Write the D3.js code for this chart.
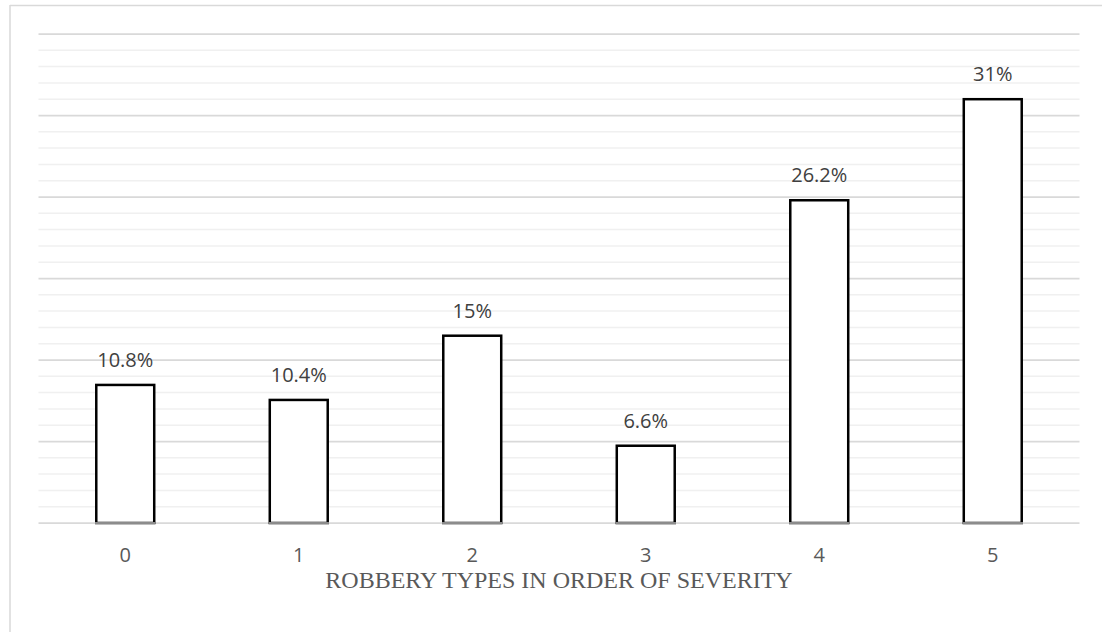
<!DOCTYPE html>
<html>
<head>
<meta charset="utf-8">
<script src="https://cdn.jsdelivr.net/npm/d3@7"></script>
<style>
  html, body { margin: 0; padding: 0; background: #fff; }
  svg { display: block; }
</style>
</head>
<body>
<svg id="chart" width="1102" height="632"></svg>
<script>
// ---- data ----
const categories = ["0", "1", "2", "3", "4", "5"];
// bar heights as drawn, in axis units (gridlines every 1, major every 5)
const barValues = [8.47, 7.55, 11.49, 4.74, 19.8, 26.0];
// data labels printed above the bars
const barLabels = ["10.8%", "10.4%", "15%", "6.6%", "26.2%", "31%"];
const yMajorTicks = [0, 5, 10, 15, 20, 25, 30];
const xTitle = "ROBBERY TYPES IN ORDER OF SEVERITY";

// ---- layout ----
const W = 1102, H = 632;
const plot = { left: 38.5, right: 1079.5, top: 34, bottom: 523 };
const svg = d3.select("#chart");

// chart border (top and left visible)
svg.append("line").attr("x1", 10).attr("y1", 5.5).attr("x2", W).attr("y2", 5.5)
  .attr("stroke", "#d9d9d9").attr("stroke-width", 1.5);
svg.append("line").attr("x1", 10).attr("y1", 5).attr("x2", 10).attr("y2", H)
  .attr("stroke", "#d9d9d9").attr("stroke-width", 1.5);

const gap = 0.666;
const x = d3.scaleBand().domain(categories)
  .range([plot.left, plot.right]).paddingInner(gap).paddingOuter(gap / 2);
const y = d3.scaleLinear().domain([0, 30]).range([plot.bottom, plot.top]);

// minor gridlines
const minorTicks = d3.range(0, 31, 1).filter(v => v % 5 !== 0);
svg.append("g").selectAll("line").data(minorTicks).join("line")
  .attr("x1", plot.left).attr("x2", plot.right)
  .attr("y1", d => y(d)).attr("y2", d => y(d))
  .attr("stroke", "#f0f0f0").attr("stroke-width", 1.5);
// major gridlines
svg.append("g").selectAll("line").data(yMajorTicks).join("line")
  .attr("x1", plot.left).attr("x2", plot.right)
  .attr("y1", d => y(d)).attr("y2", d => y(d))
  .attr("stroke", "#d9d9d9").attr("stroke-width", 1.75);

// bars
const bars = svg.append("g");
bars.selectAll("rect").data(barValues).join("rect")
  .attr("x", (d, i) => x(categories[i]))
  .attr("y", d => y(d))
  .attr("width", x.bandwidth())
  .attr("height", d => y(0) - y(d))
  .attr("fill", "#ffffff")
  .attr("stroke", "#000").attr("stroke-width", 2.5);
// bar bottom edge sits on the axis line (grey)
bars.selectAll("line").data(barValues).join("line")
  .attr("x1", (d, i) => x(categories[i]) - 1.25)
  .attr("x2", (d, i) => x(categories[i]) + x.bandwidth() + 1.25)
  .attr("y1", y(0)).attr("y2", y(0))
  .attr("stroke", "#8c8c8c").attr("stroke-width", 2);

// data labels
svg.append("g").selectAll("text").data(barLabels).join("text")
  .attr("x", (d, i) => x(categories[i]) + x.bandwidth() / 2)
  .attr("y", (d, i) => y(barValues[i]) - 18)
  .attr("text-anchor", "middle")
  .attr("font-family", "'Open Sans', sans-serif")
  .attr("font-size", 20)
  .attr("fill", "#404040")
  .text(d => d);

// x axis tick labels
const xAxis = d3.axisBottom(x).tickSize(0).tickPadding(0);
const gx = svg.append("g").attr("transform", `translate(0,${plot.bottom})`).call(xAxis);
gx.select(".domain").remove();
gx.selectAll("text")
  .attr("dy", null).attr("y", 39)
  .attr("font-family", "'Open Sans', sans-serif")
  .attr("font-size", 20)
  .attr("fill", "#595959");

// axis title
svg.append("text")
  .attr("x", (plot.left + plot.right) / 2)
  .attr("y", 588)
  .attr("text-anchor", "middle")
  .attr("font-family", "'Liberation Serif', 'Times New Roman', serif")
  .attr("font-size", 24)
  .attr("fill", "#595959")
  .text(xTitle);
</script>
</body>
</html>
